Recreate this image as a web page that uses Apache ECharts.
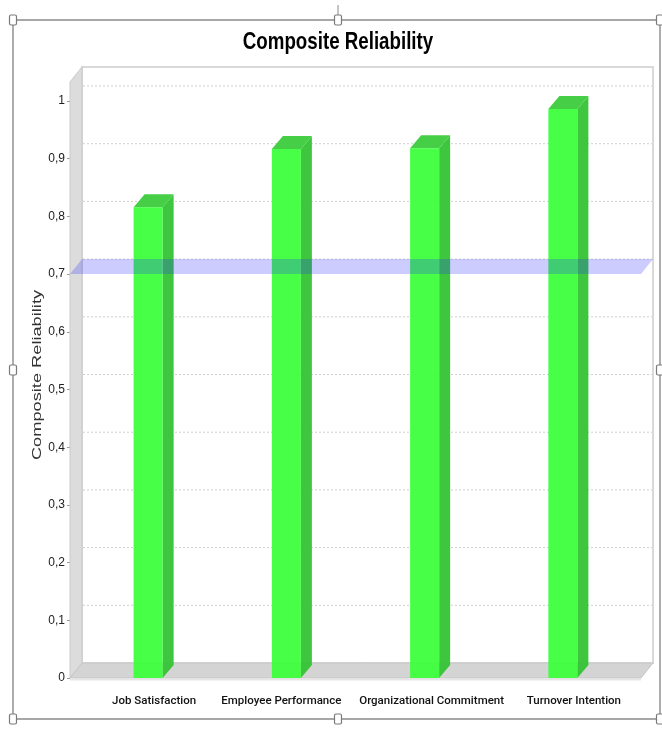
<!DOCTYPE html>
<html>
<head>
<meta charset="utf-8">
<script src="https://cdn.jsdelivr.net/npm/echarts/dist/echarts.min.js"></script>
<style>
html,body{margin:0;padding:0;background:#fff;}
#chart{width:662px;height:729px;}
</style>
</head>
<body>
<div id="chart"></div>
<script>
const categories = ['Job Satisfaction', 'Employee Performance', 'Organizational Commitment', 'Turnover Intention'];
const reliability = [0.816, 0.917, 0.918, 0.986];
const threshold = [0.7];
const yTickValues = [0, 0.1, 0.2, 0.3, 0.4, 0.5, 0.6, 0.7, 0.8, 0.9, 1];
const wallTopValue = 1.033;
const chartTitle = 'Composite Reliability';
const yAxisTitle = 'Composite Reliability';

const DX = 12, DY = -15;      // depth of walls
const BDX = 11, BDY = -13;    // depth of bars
const PAD = 9;                // floor overhang beyond category band

const chart = echarts.init(document.getElementById('chart'), null, {renderer: 'canvas'});

function background(params, api) {
  const cs = params.coordSys;
  const fl = cs.x - PAD, fr = cs.x + cs.width + PAD;
  const y0 = api.coord([0, 0])[1];
  const yTop = api.coord([0, wallTopValue])[1];
  const children = [];
  children.push({type: 'rect', shape: {x: fl + DX, y: yTop + DY, width: fr - fl, height: y0 - yTop},
    style: {fill: '#ffffff', stroke: '#d9d9d9', lineWidth: 2}});
  yTickValues.forEach(function (v) {
    if (v === 0) return;
    const y = api.coord([0, v])[1] + DY;
    children.push({type: 'line', shape: {x1: fl + DX + 1, y1: y, x2: fr + DX - 1, y2: y},
      style: {stroke: '#cfcfcf', lineWidth: 1, lineDash: [2, 2]}});
  });
  children.push({type: 'polygon', shape: {points: [[fl, y0], [fl, yTop], [fl + DX, yTop + DY], [fl + DX, y0 + DY]]},
    style: {fill: '#dcdcdc', stroke: '#c9c9c9', lineWidth: 1}});
  children.push({type: 'polygon', shape: {points: [[fl, y0], [fr, y0], [fr + DX, y0 + DY], [fl + DX, y0 + DY]]},
    style: {fill: '#d4d4d4', stroke: '#c6c6c6', lineWidth: 1}});
  children.push({type: 'line', shape: {x1: fl, y1: y0 + 1.5, x2: fr, y2: y0 + 1.5},
    style: {stroke: '#e6e6e6', lineWidth: 2}});
  return {type: 'group', children: children};
}

function bar3d(params, api) {
  const i = api.value(0), v = api.value(1);
  const top = api.coord([i, v]);
  const base = api.coord([i, 0]);
  const w = api.size([1, 0])[0] * 0.21;
  const x0 = top[0] - w / 2, x1 = top[0] + w / 2;
  const yt = top[1], yb = base[1];
  return {type: 'group', children: [
    {type: 'polygon', shape: {points: [[x1, yt], [x1 + BDX, yt + BDY], [x1 + BDX, yb + BDY], [x1, yb]]},
      style: {fill: 'rgba(52,196,52,0.95)'}},
    {type: 'polygon', shape: {points: [[x0, yt], [x1, yt], [x1 + BDX, yt + BDY], [x0 + BDX, yt + BDY]]},
      style: {fill: 'rgba(64,204,64,0.97)'}},
    {type: 'rect', shape: {x: x0, y: yt, width: w, height: yb - yt},
      style: {fill: 'rgba(58,255,58,0.94)'}}
  ]};
}

function band(params, api) {
  const cs = params.coordSys;
  const fl = cs.x - PAD, fr = cs.x + cs.width + PAD;
  const y = api.coord([0, api.value(1)])[1];
  return {type: 'polygon', shape: {points: [[fl, y], [fr, y], [fr + DX, y + DY], [fl + DX, y + DY]]},
    style: {fill: 'rgba(40,40,255,0.24)'}};
}

function handle(cx, cy) {
  return {type: 'rect', shape: {x: cx - 3.5, y: cy - 5, width: 7, height: 10, r: 1.5},
    style: {fill: '#ffffff', stroke: '#7a7a7a', lineWidth: 1.2}, z: 100};
}

const labelFont = {fontFamily: 'Roboto, sans-serif', fontWeight: 500, fontSize: 11.5, color: '#111'};
const option = {
  animation: false,
  grid: {left: 79, right: 30, top: 101, bottom: 51, show: false},
  xAxis: {
    type: 'category', data: categories,
    axisLine: {show: false}, axisTick: {show: false}, splitLine: {show: false},
    axisLabel: Object.assign({
      margin: 17, interval: 0,
      formatter: function (v, i) { return '{l' + i + '|' + v + '}'; },
      rich: {
        l0: Object.assign({padding: [0, 0, 0, 12]}, labelFont),
        l1: Object.assign({padding: [0, 10, 7, 0]}, labelFont),
        l2: Object.assign({padding: [0, 0, 0, 14]}, labelFont),
        l3: Object.assign({padding: [0, 0, 0, 22]}, labelFont)
      }
    }, labelFont)
  },
  yAxis: {
    type: 'value', min: 0, max: 1, interval: 0.1, offset: PAD,
    axisLine: {show: false},
    axisTick: {show: true, length: 3, lineStyle: {color: '#999'}},
    splitLine: {show: false},
    axisLabel: {margin: 5, fontFamily: '"Liberation Sans", Arial, sans-serif', fontSize: 12, color: '#222',
      formatter: function (v) { return String(Number(v.toFixed(1))).replace('.', ','); }}
  },
  graphic: [
    {type: 'text', x: 338, y: 42, scaleX: 0.78,
      style: {text: chartTitle, font: 'bold 24px "Liberation Sans", Arial, sans-serif', fill: '#000', align: 'center', verticalAlign: 'middle'}},
    {type: 'text', x: 37, y: 375, rotation: Math.PI / 2, scaleX: 1.35,
      style: {text: yAxisTitle, font: '13.5px "Liberation Sans", Arial, sans-serif', fill: '#333', align: 'center', verticalAlign: 'middle'}},
    {type: 'rect', shape: {x: 13, y: 20, width: 647, height: 699}, style: {fill: null, stroke: '#8a8a8a', lineWidth: 1.4}, z: 99},
    {type: 'line', shape: {x1: 338, y1: 5, x2: 338, y2: 15}, style: {stroke: '#8a8a8a', lineWidth: 1}, z: 99},
    handle(13, 20), handle(338, 20), handle(660, 20),
    handle(13, 370), handle(660, 370),
    handle(13, 719), handle(338, 719), handle(660, 719)
  ],
  series: [
    {type: 'custom', renderItem: background, data: [[0, 0]], clip: false, z: 1, silent: true},
    {type: 'custom', renderItem: bar3d, data: reliability.map(function (v, i) { return [i, v]; }), clip: false, z: 2},
    {type: 'custom', renderItem: band, data: threshold.map(function (v) { return [0, v]; }), clip: false, z: 3, silent: true}
  ]
};
chart.setOption(option);
</script>
</body>
</html>
